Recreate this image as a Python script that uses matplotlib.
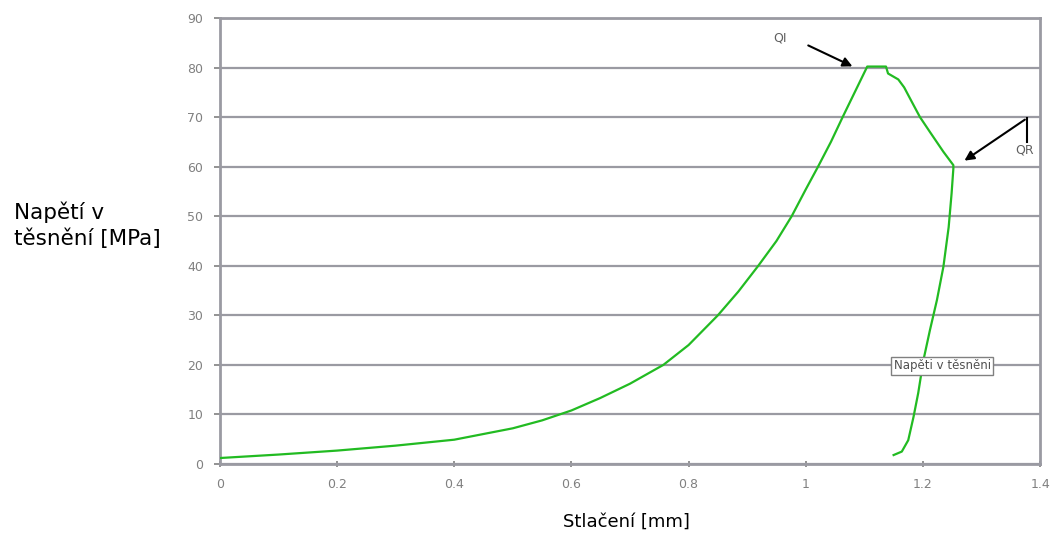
import numpy as np
import matplotlib.pyplot as plt

# stlaceni [mm] a napeti [MPa]
stlaceni = [0.0, 0.1, 0.2, 0.3, 0.4, 0.5, 0.55, 0.6, 0.649, 0.7, 0.757, 0.8,
            0.85, 0.885, 0.919, 0.95, 0.976, 1.0, 1.021, 1.043, 1.063,
            1.105, 1.137, 1.1405, 1.158, 1.168, 1.181, 1.195, 1.212,
            1.235, 1.252, 1.252, 1.249, 1.244, 1.235, 1.224, 1.212, 1.201,
            1.192, 1.184, 1.175, 1.164, 1.150]
napeti = [1.2, 1.9, 2.7, 3.7, 4.9, 7.2, 8.8, 10.8, 13.3, 16.2, 20.0, 24.0,
          30.0, 34.8, 40.0, 45.0, 50.0, 55.4, 60.0, 65.0, 70.0,
          80.2, 80.2, 78.8, 77.6, 76.0, 73.1, 70.0, 67.0,
          63.0, 60.3, 59.6, 54.6, 47.8, 39.8, 33.1, 27.0, 21.0,
          14.3, 9.5, 4.8, 2.5, 1.8]

xticks = [0, 0.2, 0.4, 0.6, 0.8, 1, 1.2, 1.4]
xlabels = ["0", "0.2", "0.4", "0.6", "0.8", "1", "1.2", "1.4"]
yticks = list(range(0, 91, 10))

fig = plt.figure(figsize=(10.53, 5.37), dpi=100)
ax = fig.add_axes([0.2089, 0.136, 0.7788, 0.8305])

grey = "#9a9aa2"
ax.plot(stlaceni, napeti, color="#22bb22", lw=1.6, zorder=3)

ax.set_xlim(0, 1.4)
ax.set_ylim(0, 90)
ax.set_xticks(xticks)
ax.set_xticklabels(xlabels)
ax.set_yticks(yticks)
ax.yaxis.grid(True, color=grey, lw=1.6)
ax.tick_params(colors="#808080", labelsize=9, length=4, width=1.2, pad=8)
ax.tick_params(axis="x", direction="inout")
for s in ax.spines.values():
    s.set_color(grey)
    s.set_linewidth(2)

ax.annotate("", xy=(1.084, 80.0), xytext=(1.0, 84.7),
            arrowprops=dict(arrowstyle="-|>", color="black", lw=1.5, mutation_scale=14))
ax.text(0.956, 85.9, "QI", fontsize=9, color="#606060", ha="center", va="center")
ax.plot([1.378, 1.378], [69.8, 65.0], color="black", lw=1.5)
ax.annotate("", xy=(1.267, 60.9), xytext=(1.378, 69.8),
            arrowprops=dict(arrowstyle="-|>", color="black", lw=1.5, mutation_scale=14))
ax.text(1.374, 63.3, "QR", fontsize=9, color="#606060", ha="center", va="center")
ax.text(1.233, 19.8, "Napěti v těsněni", fontsize=8.5, color="#505050", ha="center",
        va="center", zorder=4,
        bbox=dict(boxstyle="square,pad=0.2", fc="white", ec="#808080", lw=1))

fig.text(0.5945, 0.028, "Stlačení [mm]", fontsize=13, ha="center", va="center")
fig.text(0.013, 0.58, "Napětí v\ntěsnění [MPa]", fontsize=15.5, ha="left", va="center",
         linespacing=1.35)

fig.savefig("out.png", dpi=100)
